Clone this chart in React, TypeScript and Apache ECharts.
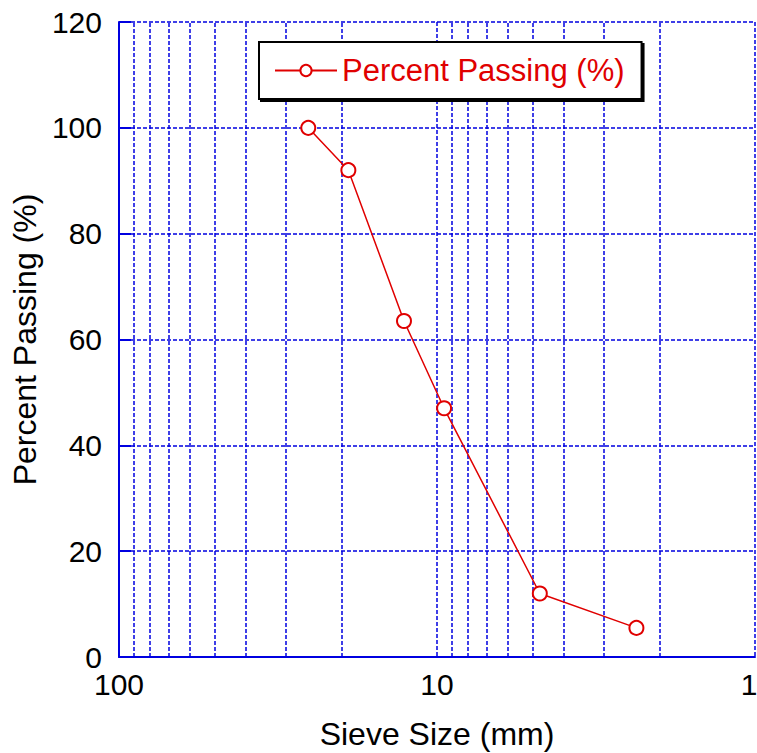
import React, { useEffect, useRef } from "react";
import * as echarts from "echarts";

// Sieve analysis: particle size (mm) vs. percent passing
const sieveSizes = [25.4, 19, 12.7, 9.5, 4.75, 2.36];
const percentPassing = [100, 92, 63.5, 47, 12, 5.5];

// Intermediate log grid lines between the decades
const minorGrid = [90, 80, 70, 60, 50, 40, 30, 20, 9, 8, 7, 6, 5, 4, 3, 2];

const BLUE = "#0000e0";
const RED = "#e00000";
const FONT = "'Liberation Sans', Arial, Helvetica, sans-serif";
const W = 757;
const H = 753;

export default function App() {
  const ref = useRef<HTMLDivElement>(null);

  useEffect(() => {
    if (!ref.current) return;
    document.body.style.margin = "0";
    const chart = echarts.init(ref.current, null, { renderer: "svg", width: W, height: H });
    const data = sieveSizes.map((s, i) => [s, percentPassing[i]]);

    chart.setOption({
      animation: false,
      backgroundColor: "#ffffff",
      textStyle: { fontFamily: FONT },
      grid: {
        left: 119,
        right: 2,
        top: 22,
        bottom: 96,
        containLabel: false,
        outerBoundsMode: "none",
      },
      legend: {
        left: 259,
        top: 42,
        padding: [13, 17, 13, 15],
        itemWidth: 62,
        itemHeight: 14,
        itemGap: 6,
        borderColor: "#000",
        borderWidth: 2,
        shadowColor: "#000",
        shadowOffsetX: 2,
        shadowOffsetY: 2,
        shadowBlur: 0,
        backgroundColor: "#ffffff",
        textStyle: { color: RED, fontSize: 31, fontFamily: FONT },
        data: ["Percent Passing (%)"],
      },
      xAxis: {
        type: "log",
        logBase: 10,
        min: 1,
        max: 100,
        inverse: true,
        name: "Sieve Size (mm)",
        nameLocation: "middle",
        nameGap: 61,
        nameTextStyle: { color: "#000", fontSize: 32, fontFamily: FONT },
        axisLine: { show: true, lineStyle: { color: BLUE, width: 2 } },
        axisTick: { show: false },
        axisLabel: {
          color: "#000",
          fontSize: 30,
          lineHeight: 24,
          margin: 15,
          fontFamily: FONT,
          // keep the right-most label inside the page edge
          formatter: (v: number) => (v === 1 ? "{edge|1}" : String(v)),
          rich: {
            edge: {
              color: "#000",
              fontSize: 30,
              lineHeight: 24,
              fontFamily: FONT,
              padding: [0, 12, 0, 0],
            },
          },
        },
        splitLine: { show: true, lineStyle: { color: BLUE, width: 1.5, type: [4, 2] } },
      },
      yAxis: {
        type: "value",
        min: 0,
        max: 120,
        interval: 20,
        name: "Percent Passing (%)",
        nameLocation: "middle",
        nameGap: 76,
        nameTextStyle: { color: "#000", fontSize: 32, fontFamily: FONT },
        axisLine: { show: true, lineStyle: { color: BLUE, width: 2 } },
        axisTick: { show: true, inside: true, length: 12, lineStyle: { color: BLUE, width: 2 } },
        axisLabel: { color: "#000", fontSize: 30, lineHeight: 24, margin: 17, fontFamily: FONT },
        splitLine: { show: true, lineStyle: { color: BLUE, width: 1.5, type: [4, 2] } },
      },
      series: [
        {
          name: "Percent Passing (%)",
          type: "line",
          data,
          color: RED,
          symbol: "emptyCircle",
          symbolSize: 14,
          lineStyle: { color: RED, width: 1.5 },
          itemStyle: { color: RED, borderColor: RED, borderWidth: 2 },
          z: 5,
          markLine: {
            silent: true,
            symbol: "none",
            label: { show: false },
            lineStyle: { color: BLUE, width: 1.5, type: [4, 2] },
            data: minorGrid.map((v) => ({ xAxis: v })),
            z: 1,
          },
        },
      ],
    });

    return () => chart.dispose();
  }, []);

  return (
    <div
      ref={ref}
      style={{ position: "absolute", left: 0, top: 0, width: W, height: H }}
    />
  );
}
